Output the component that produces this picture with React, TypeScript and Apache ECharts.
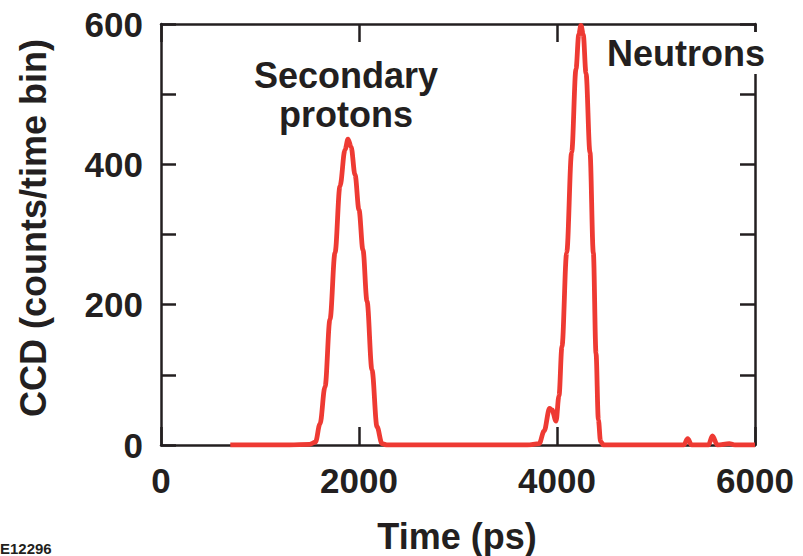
import React, { useEffect, useRef } from "react";
import * as echarts from "echarts";

const timePs: number[] = [700, 1000, 1300, 1500, 1560, 1606, 1657, 1707, 1758, 1808, 1859, 1889, 1920, 1960, 2000, 2040, 2081, 2131, 2182, 2232, 2280, 3000, 3700, 3820, 3870, 3925, 3950, 3990, 4020, 4050, 4098, 4148, 4192, 4220, 4242, 4265, 4293, 4333, 4367, 4394, 4418, 4440, 4470, 5000, 5280, 5320, 5360, 5400, 5530, 5570, 5620, 5740, 5800, 6000];
const counts: number[] = [0, 0, 0, 1, 4, 30, 83, 179, 274, 369, 421, 436, 425, 385, 335, 278, 205, 107, 26, 2, 0, 0, 0, 2, 20, 52, 50, 34, 70, 140, 274, 417, 536, 585, 598, 585, 530, 417, 274, 131, 36, 5, 0, 0, 0, 9, 0, 0, 0, 13, 0, 2, 0, 0];

const xTicks: number[] = [0, 2000, 4000, 6000];
const yTicks: number[] = [0, 200, 400, 600];

const INK = "#231f20";
const RED = "#ee3a33";
const FONT = "'Liberation Sans', Arial, Helvetica, sans-serif";

export default function App() {
  const ref = useRef<HTMLDivElement>(null);
  useEffect(() => {
    if (!ref.current) return;
    const chart = echarts.init(ref.current, undefined, { renderer: "svg" });
    const axisLine = { show: true, onZero: false, lineStyle: { color: INK, width: 2.5 } };
    const tickStyle = { color: INK, width: 2.5 };
    const textEl = (text: string, x: number, y: number, extra: any = {}, styleExtra: any = {}) => ({
      type: "text",
      x,
      y,
      z: 100,
      ...extra,
      style: {
        text,
        fill: INK,
        font: `bold 36px ${FONT}`,
        align: "center",
        verticalAlign: "middle",
        ...styleExtra,
      },
    });
    chart.setOption({
      animation: false,
      backgroundColor: "#ffffff",
      grid: { left: 161, right: 48, top: 24, bottom: 111, containLabel: false },
      xAxis: [
        {
          type: "value",
          position: "bottom",
          min: xTicks[0],
          max: xTicks[xTicks.length - 1],
          interval: 2000,
          axisLine,
          axisTick: { show: true, inside: true, length: 18, lineStyle: tickStyle },
          splitLine: { show: false },
          axisLabel: {
            show: true,
            margin: 18,
            color: INK,
            fontFamily: FONT,
            fontWeight: "bold",
            fontSize: 35,
            formatter: (v: number) => String(v),
          },
        },
        {
          type: "value",
          position: "top",
          min: xTicks[0],
          max: xTicks[xTicks.length - 1],
          interval: 2000,
          axisLine,
          axisTick: { show: true, inside: true, length: 18, lineStyle: tickStyle },
          splitLine: { show: false },
          axisLabel: { show: false },
        },
      ],
      yAxis: [
        {
          type: "value",
          position: "left",
          min: yTicks[0],
          max: yTicks[yTicks.length - 1],
          interval: 100,
          axisLine,
          axisTick: { show: true, inside: true, length: 15, lineStyle: tickStyle },
          splitLine: { show: false },
          axisLabel: {
            show: true,
            margin: 18,
            color: INK,
            fontFamily: FONT,
            fontWeight: "bold",
            fontSize: 35,
            formatter: (v: number) => (yTicks.indexOf(v) >= 0 ? String(v) : ""),
          },
        },
        {
          type: "value",
          position: "right",
          min: yTicks[0],
          max: yTicks[yTicks.length - 1],
          interval: 100,
          axisLine,
          axisTick: { show: true, inside: true, length: 15, lineStyle: tickStyle },
          splitLine: { show: false },
          axisLabel: { show: false },
        },
      ],
      series: [
        {
          type: "line",
          xAxisIndex: 0,
          yAxisIndex: 0,
          data: timePs.map((t, i) => [t, counts[i]]),
          showSymbol: false,
          symbol: "none",
          smooth: 0.35,
          smoothMonotone: "x",
          lineStyle: { color: RED, width: 4.8 },
          z: 1,
        },
      ],
      graphic: [
        textEl("CCD (counts/time bin)", 33, 228, { rotation: Math.PI / 2 }),
        textEl("Time (ps)", 457, 536),
        textEl("Secondary", 346, 75),
        textEl("protons", 346, 114),
        textEl("Neutrons", 686, 53, {}, { backgroundColor: "#ffffff", padding: [3, 0, 3, 0] }),
        {
          type: "text",
          x: 0,
          y: 548,
          style: {
            text: "E12296",
            fill: INK,
            font: `bold 15px ${FONT}`,
            align: "left",
            verticalAlign: "middle",
          },
        },
      ],
    });
    return () => chart.dispose();
  }, []);
  return (
    <div
      ref={ref}
      style={{ position: "fixed", left: 0, top: 0, width: 803, height: 556 }}
    />
  );
}
